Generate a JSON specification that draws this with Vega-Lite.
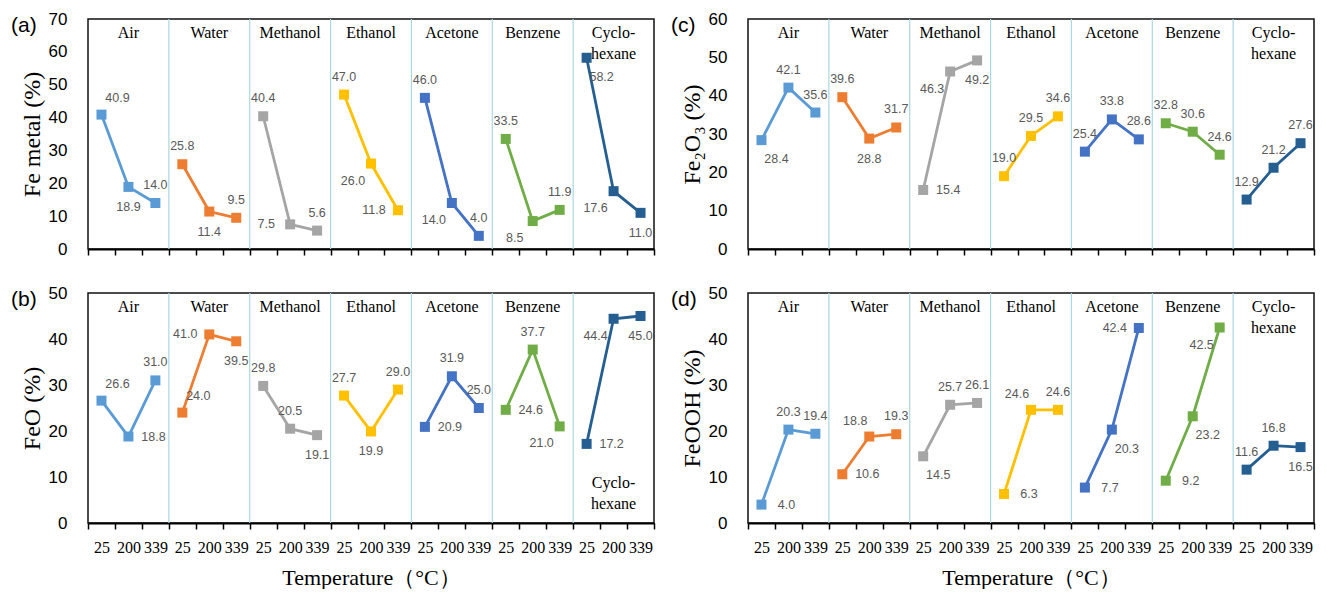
{
  "$schema": "https://vega.github.io/schema/vega-lite/v6.json",
  "background": "white",
  "padding": {"left": 10, "right": 5, "top": 9, "bottom": 0},
  "config": {
    "view": {"stroke": "#111111", "strokeWidth": 1.5},
    "axisX": {
      "domainColor": "#000000", "domainWidth": 2, "tickColor": "#000000", "tickWidth": 1.5, "tickSize": 6,
      "tickBand": "extent", "grid": false, "labelAngle": 0,
      "labelFont": "Liberation Serif", "labelFontSize": 16, "labelColor": "#000000", "labelPadding": 10,
      "titleFont": "Liberation Serif", "titleFontSize": 22, "titleFontWeight": "normal", "titleColor": "#000000", "titlePadding": 12
    },
    "axisY": {
      "domain": false, "ticks": false, "grid": false, "labelOverlap": false,
      "labelFont": "Liberation Sans", "labelFontSize": 17, "labelColor": "#000000", "labelPadding": 21,
      "titleFont": "Liberation Serif", "titleFontSize": 24, "titleFontWeight": "normal", "titleColor": "#000000", "titlePadding": 4
    },
    "title": {"orient": "none", "anchor": "start", "frame": "group", "dx": -77, "dy": -4, "offset": 0, "baseline": "middle", "font": "Liberation Sans", "fontSize": 21, "fontWeight": "normal", "color": "#000000"}
  },
  "data": {"values": [
    {"sample": "Air", "t": 25, "fe": 40.9, "feo": 26.6, "fe2o3": 28.4, "feooh": 4.0},
    {"sample": "Air", "t": 200, "fe": 18.9, "feo": 18.8, "fe2o3": 42.1, "feooh": 20.3},
    {"sample": "Air", "t": 339, "fe": 14.0, "feo": 31.0, "fe2o3": 35.6, "feooh": 19.4},
    {"sample": "Water", "t": 25, "fe": 25.8, "feo": 24.0, "fe2o3": 39.6, "feooh": 10.6},
    {"sample": "Water", "t": 200, "fe": 11.4, "feo": 41.0, "fe2o3": 28.8, "feooh": 18.8},
    {"sample": "Water", "t": 339, "fe": 9.5, "feo": 39.5, "fe2o3": 31.7, "feooh": 19.3},
    {"sample": "Methanol", "t": 25, "fe": 40.4, "feo": 29.8, "fe2o3": 15.4, "feooh": 14.5},
    {"sample": "Methanol", "t": 200, "fe": 7.5, "feo": 20.5, "fe2o3": 46.3, "feooh": 25.7},
    {"sample": "Methanol", "t": 339, "fe": 5.6, "feo": 19.1, "fe2o3": 49.2, "feooh": 26.1},
    {"sample": "Ethanol", "t": 25, "fe": 47.0, "feo": 27.7, "fe2o3": 19.0, "feooh": 6.3},
    {"sample": "Ethanol", "t": 200, "fe": 26.0, "feo": 19.9, "fe2o3": 29.5, "feooh": 24.6},
    {"sample": "Ethanol", "t": 339, "fe": 11.8, "feo": 29.0, "fe2o3": 34.6, "feooh": 24.6},
    {"sample": "Acetone", "t": 25, "fe": 46.0, "feo": 20.9, "fe2o3": 25.4, "feooh": 7.7},
    {"sample": "Acetone", "t": 200, "fe": 14.0, "feo": 31.9, "fe2o3": 33.8, "feooh": 20.3},
    {"sample": "Acetone", "t": 339, "fe": 4.0, "feo": 25.0, "fe2o3": 28.6, "feooh": 42.4},
    {"sample": "Benzene", "t": 25, "fe": 33.5, "feo": 24.6, "fe2o3": 32.8, "feooh": 9.2},
    {"sample": "Benzene", "t": 200, "fe": 8.5, "feo": 37.7, "fe2o3": 30.6, "feooh": 23.2},
    {"sample": "Benzene", "t": 339, "fe": 11.9, "feo": 21.0, "fe2o3": 24.6, "feooh": 42.5},
    {"sample": "Cyclohexane", "t": 25, "fe": 58.2, "feo": 17.2, "fe2o3": 12.9, "feooh": 11.6},
    {"sample": "Cyclohexane", "t": 200, "fe": 17.6, "feo": 44.4, "fe2o3": 21.2, "feooh": 16.8},
    {"sample": "Cyclohexane", "t": 339, "fe": 11.0, "feo": 45.0, "fe2o3": 27.6, "feooh": 16.5}
  ]},
  "transform": [
    {"calculate": "datum.sample + ' ' + datum.t", "as": "key"},
    {"calculate": "datum.sample == 'Cyclohexane' ? 'Cyclo-\\nhexane' : datum.sample", "as": "lab"}
  ],
  "spacing": 25,
  "vconcat": [
    {
      "spacing": 14,
      "hconcat": [
        {
          "width": 566, "height": 230,
          "title": {"text": "(a)"},
          "layer": [
            {
              "transform": [{"filter": "datum.t == 25 && datum.sample != 'Air'"}],
              "mark": {"type": "rule", "color": "#a9d8e1", "strokeWidth": 1.2},
              "encoding": {"x": {"field": "key", "type": "nominal", "bandPosition": 0, "scale": {"domain": ["Air 25","Air 200","Air 339","Water 25","Water 200","Water 339","Methanol 25","Methanol 200","Methanol 339","Ethanol 25","Ethanol 200","Ethanol 339","Acetone 25","Acetone 200","Acetone 339","Benzene 25","Benzene 200","Benzene 339","Cyclohexane 25","Cyclohexane 200","Cyclohexane 339"], "paddingInner": 0, "paddingOuter": 0}, "axis": {"labels": false}, "title": null}}
            },
            {
              "mark": {"type": "line", "strokeWidth": 2.8},
              "encoding": {
                "x": {"field": "key", "type": "nominal", "scale": {"domain": ["Air 25","Air 200","Air 339","Water 25","Water 200","Water 339","Methanol 25","Methanol 200","Methanol 339","Ethanol 25","Ethanol 200","Ethanol 339","Acetone 25","Acetone 200","Acetone 339","Benzene 25","Benzene 200","Benzene 339","Cyclohexane 25","Cyclohexane 200","Cyclohexane 339"], "paddingInner": 0, "paddingOuter": 0}, "axis": {"labels": false}, "title": null},
                "y": {"field": "fe", "type": "quantitative", "scale": {"domain": [0, 70]}, "axis": {"values": [0, 10, 20, 30, 40, 50, 60, 70], "labelOverlap": false}, "title": "Fe metal (%)"},
                "color": {"field": "sample", "type": "nominal", "scale": {"domain": ["Air","Water","Methanol","Ethanol","Acetone","Benzene","Cyclohexane"], "range": ["#5b9bd5","#ed7d31","#a5a5a5","#ffc000","#4472c4","#70ad47","#255e91"]}, "legend": null},
                "order": {"field": "t", "type": "quantitative"}
              }
            },
            {
              "mark": {"type": "point", "shape": "square", "filled": true, "size": 100, "opacity": 1},
              "encoding": {
                "x": {"field": "key", "type": "nominal", "scale": {"domain": ["Air 25","Air 200","Air 339","Water 25","Water 200","Water 339","Methanol 25","Methanol 200","Methanol 339","Ethanol 25","Ethanol 200","Ethanol 339","Acetone 25","Acetone 200","Acetone 339","Benzene 25","Benzene 200","Benzene 339","Cyclohexane 25","Cyclohexane 200","Cyclohexane 339"], "paddingInner": 0, "paddingOuter": 0}, "axis": {"labels": false}, "title": null},
                "y": {"field": "fe", "type": "quantitative", "scale": {"domain": [0, 70]}, "axis": {"values": [0, 10, 20, 30, 40, 50, 60, 70], "labelOverlap": false}, "title": "Fe metal (%)"},
                "color": {"field": "sample", "type": "nominal", "scale": {"domain": ["Air","Water","Methanol","Ethanol","Acetone","Benzene","Cyclohexane"], "range": ["#5b9bd5","#ed7d31","#a5a5a5","#ffc000","#4472c4","#70ad47","#255e91"]}, "legend": null}
              }
            },
            {
              "transform": [{"calculate": "({'Air 25':'NE','Air 200':'S','Water 200':'S','Methanol 200':'W','Ethanol 200':'SW','Ethanol 339':'W','Acetone 200':'SW','Benzene 200':'SW','Cyclohexane 25':'SE','Cyclohexane 200':'SW','Cyclohexane 339':'S'})[datum.key] || 'N'", "as": "pos"}],
              "mark": {"type": "text", "font": "Liberation Sans", "fontSize": 12.5, "color": "#595959", "align": "center", "baseline": "middle",
                "dx": {"expr": "datum.pos=='E'?25:datum.pos=='W'?-24:datum.pos=='NE'?16:datum.pos=='SE'?15:datum.pos=='SW'?-18:datum.pos=='NW'?-14:0"},
                "dy": {"expr": "datum.pos=='N'?-18:datum.pos=='S'?20:datum.pos=='NE'?-17:datum.pos=='SE'?19:datum.pos=='SW'?17:datum.pos=='NW'?-16:0"}},
              "encoding": {
                "x": {"field": "key", "type": "nominal", "scale": {"domain": ["Air 25","Air 200","Air 339","Water 25","Water 200","Water 339","Methanol 25","Methanol 200","Methanol 339","Ethanol 25","Ethanol 200","Ethanol 339","Acetone 25","Acetone 200","Acetone 339","Benzene 25","Benzene 200","Benzene 339","Cyclohexane 25","Cyclohexane 200","Cyclohexane 339"], "paddingInner": 0, "paddingOuter": 0}, "axis": {"labels": false}, "title": null},
                "y": {"field": "fe", "type": "quantitative", "scale": {"domain": [0, 70]}, "axis": {"values": [0, 10, 20, 30, 40, 50, 60, 70], "labelOverlap": false}, "title": "Fe metal (%)"},
                "text": {"field": "fe", "type": "quantitative", "format": ".1f"}
              }
            },
            {
              "transform": [{"filter": "datum.t == 200"}],
              "mark": {"type": "text", "font": "Liberation Serif", "fontSize": 16, "color": "#000000", "align": "center", "baseline": "top", "lineBreak": "\n", "lineHeight": 21},
              "encoding": {
                "x": {"field": "key", "type": "nominal", "scale": {"domain": ["Air 25","Air 200","Air 339","Water 25","Water 200","Water 339","Methanol 25","Methanol 200","Methanol 339","Ethanol 25","Ethanol 200","Ethanol 339","Acetone 25","Acetone 200","Acetone 339","Benzene 25","Benzene 200","Benzene 339","Cyclohexane 25","Cyclohexane 200","Cyclohexane 339"], "paddingInner": 0, "paddingOuter": 0}, "axis": {"labels": false}, "title": null},
                "y": {"datum": 68.2, "type": "quantitative", "scale": {"domain": [0, 70]}, "axis": {"values": [0, 10, 20, 30, 40, 50, 60, 70], "labelOverlap": false}, "title": "Fe metal (%)"},
                "text": {"field": "lab", "type": "nominal"}
              }
            }
          ]
        },
        {
          "width": 566, "height": 230,
          "title": {"text": "(c)"},
          "layer": [
            {
              "transform": [{"filter": "datum.t == 25 && datum.sample != 'Air'"}],
              "mark": {"type": "rule", "color": "#a9d8e1", "strokeWidth": 1.2},
              "encoding": {"x": {"field": "key", "type": "nominal", "bandPosition": 0, "scale": {"domain": ["Air 25","Air 200","Air 339","Water 25","Water 200","Water 339","Methanol 25","Methanol 200","Methanol 339","Ethanol 25","Ethanol 200","Ethanol 339","Acetone 25","Acetone 200","Acetone 339","Benzene 25","Benzene 200","Benzene 339","Cyclohexane 25","Cyclohexane 200","Cyclohexane 339"], "paddingInner": 0, "paddingOuter": 0}, "axis": {"labels": false}, "title": null}}
            },
            {
              "mark": {"type": "line", "strokeWidth": 2.8},
              "encoding": {
                "x": {"field": "key", "type": "nominal", "scale": {"domain": ["Air 25","Air 200","Air 339","Water 25","Water 200","Water 339","Methanol 25","Methanol 200","Methanol 339","Ethanol 25","Ethanol 200","Ethanol 339","Acetone 25","Acetone 200","Acetone 339","Benzene 25","Benzene 200","Benzene 339","Cyclohexane 25","Cyclohexane 200","Cyclohexane 339"], "paddingInner": 0, "paddingOuter": 0}, "axis": {"labels": false}, "title": null},
                "y": {"field": "fe2o3", "type": "quantitative", "scale": {"domain": [0, 60]}, "axis": {"values": [0, 10, 20, 30, 40, 50, 60], "labelOverlap": false}, "title": "Fe₂O₃ (%)"},
                "color": {"field": "sample", "type": "nominal", "scale": {"domain": ["Air","Water","Methanol","Ethanol","Acetone","Benzene","Cyclohexane"], "range": ["#5b9bd5","#ed7d31","#a5a5a5","#ffc000","#4472c4","#70ad47","#255e91"]}, "legend": null},
                "order": {"field": "t", "type": "quantitative"}
              }
            },
            {
              "mark": {"type": "point", "shape": "square", "filled": true, "size": 100, "opacity": 1},
              "encoding": {
                "x": {"field": "key", "type": "nominal", "scale": {"domain": ["Air 25","Air 200","Air 339","Water 25","Water 200","Water 339","Methanol 25","Methanol 200","Methanol 339","Ethanol 25","Ethanol 200","Ethanol 339","Acetone 25","Acetone 200","Acetone 339","Benzene 25","Benzene 200","Benzene 339","Cyclohexane 25","Cyclohexane 200","Cyclohexane 339"], "paddingInner": 0, "paddingOuter": 0}, "axis": {"labels": false}, "title": null},
                "y": {"field": "fe2o3", "type": "quantitative", "scale": {"domain": [0, 60]}, "axis": {"values": [0, 10, 20, 30, 40, 50, 60], "labelOverlap": false}, "title": "Fe₂O₃ (%)"},
                "color": {"field": "sample", "type": "nominal", "scale": {"domain": ["Air","Water","Methanol","Ethanol","Acetone","Benzene","Cyclohexane"], "range": ["#5b9bd5","#ed7d31","#a5a5a5","#ffc000","#4472c4","#70ad47","#255e91"]}, "legend": null}
              }
            },
            {
              "transform": [{"calculate": "({'Air 25':'SE','Water 200':'S','Methanol 25':'E','Methanol 200':'SW','Methanol 339':'S'})[datum.key] || 'N'", "as": "pos"}],
              "mark": {"type": "text", "font": "Liberation Sans", "fontSize": 12.5, "color": "#595959", "align": "center", "baseline": "middle",
                "dx": {"expr": "datum.pos=='E'?25:datum.pos=='W'?-24:datum.pos=='NE'?16:datum.pos=='SE'?15:datum.pos=='SW'?-18:datum.pos=='NW'?-14:0"},
                "dy": {"expr": "datum.pos=='N'?-18:datum.pos=='S'?20:datum.pos=='NE'?-17:datum.pos=='SE'?19:datum.pos=='SW'?17:datum.pos=='NW'?-16:0"}},
              "encoding": {
                "x": {"field": "key", "type": "nominal", "scale": {"domain": ["Air 25","Air 200","Air 339","Water 25","Water 200","Water 339","Methanol 25","Methanol 200","Methanol 339","Ethanol 25","Ethanol 200","Ethanol 339","Acetone 25","Acetone 200","Acetone 339","Benzene 25","Benzene 200","Benzene 339","Cyclohexane 25","Cyclohexane 200","Cyclohexane 339"], "paddingInner": 0, "paddingOuter": 0}, "axis": {"labels": false}, "title": null},
                "y": {"field": "fe2o3", "type": "quantitative", "scale": {"domain": [0, 60]}, "axis": {"values": [0, 10, 20, 30, 40, 50, 60], "labelOverlap": false}, "title": "Fe₂O₃ (%)"},
                "text": {"field": "fe2o3", "type": "quantitative", "format": ".1f"}
              }
            },
            {
              "transform": [{"filter": "datum.t == 200"}],
              "mark": {"type": "text", "font": "Liberation Serif", "fontSize": 16, "color": "#000000", "align": "center", "baseline": "top", "lineBreak": "\n", "lineHeight": 21},
              "encoding": {
                "x": {"field": "key", "type": "nominal", "scale": {"domain": ["Air 25","Air 200","Air 339","Water 25","Water 200","Water 339","Methanol 25","Methanol 200","Methanol 339","Ethanol 25","Ethanol 200","Ethanol 339","Acetone 25","Acetone 200","Acetone 339","Benzene 25","Benzene 200","Benzene 339","Cyclohexane 25","Cyclohexane 200","Cyclohexane 339"], "paddingInner": 0, "paddingOuter": 0}, "axis": {"labels": false}, "title": null},
                "y": {"datum": 58.4, "type": "quantitative", "scale": {"domain": [0, 60]}, "axis": {"values": [0, 10, 20, 30, 40, 50, 60], "labelOverlap": false}, "title": "Fe₂O₃ (%)"},
                "text": {"field": "lab", "type": "nominal"}
              }
            }
          ]
        }
      ]
    },
    {
      "spacing": 14,
      "hconcat": [
        {
          "width": 566, "height": 230,
          "title": {"text": "(b)"},
          "layer": [
            {
              "transform": [{"filter": "datum.t == 25 && datum.sample != 'Air'"}],
              "mark": {"type": "rule", "color": "#a9d8e1", "strokeWidth": 1.2},
              "encoding": {"x": {"field": "key", "type": "nominal", "bandPosition": 0, "scale": {"domain": ["Air 25","Air 200","Air 339","Water 25","Water 200","Water 339","Methanol 25","Methanol 200","Methanol 339","Ethanol 25","Ethanol 200","Ethanol 339","Acetone 25","Acetone 200","Acetone 339","Benzene 25","Benzene 200","Benzene 339","Cyclohexane 25","Cyclohexane 200","Cyclohexane 339"], "paddingInner": 0, "paddingOuter": 0}, "axis": {"labelExpr": "split(datum.value, ' ')[1]"}, "title": "Temperature（°C）"}}
            },
            {
              "mark": {"type": "line", "strokeWidth": 2.8},
              "encoding": {
                "x": {"field": "key", "type": "nominal", "scale": {"domain": ["Air 25","Air 200","Air 339","Water 25","Water 200","Water 339","Methanol 25","Methanol 200","Methanol 339","Ethanol 25","Ethanol 200","Ethanol 339","Acetone 25","Acetone 200","Acetone 339","Benzene 25","Benzene 200","Benzene 339","Cyclohexane 25","Cyclohexane 200","Cyclohexane 339"], "paddingInner": 0, "paddingOuter": 0}, "axis": {"labelExpr": "split(datum.value, ' ')[1]"}, "title": "Temperature（°C）"},
                "y": {"field": "feo", "type": "quantitative", "scale": {"domain": [0, 50]}, "axis": {"values": [0, 10, 20, 30, 40, 50], "labelOverlap": false}, "title": "FeO (%)"},
                "color": {"field": "sample", "type": "nominal", "scale": {"domain": ["Air","Water","Methanol","Ethanol","Acetone","Benzene","Cyclohexane"], "range": ["#5b9bd5","#ed7d31","#a5a5a5","#ffc000","#4472c4","#70ad47","#255e91"]}, "legend": null},
                "order": {"field": "t", "type": "quantitative"}
              }
            },
            {
              "mark": {"type": "point", "shape": "square", "filled": true, "size": 100, "opacity": 1},
              "encoding": {
                "x": {"field": "key", "type": "nominal", "scale": {"domain": ["Air 25","Air 200","Air 339","Water 25","Water 200","Water 339","Methanol 25","Methanol 200","Methanol 339","Ethanol 25","Ethanol 200","Ethanol 339","Acetone 25","Acetone 200","Acetone 339","Benzene 25","Benzene 200","Benzene 339","Cyclohexane 25","Cyclohexane 200","Cyclohexane 339"], "paddingInner": 0, "paddingOuter": 0}, "axis": {"labelExpr": "split(datum.value, ' ')[1]"}, "title": "Temperature（°C）"},
                "y": {"field": "feo", "type": "quantitative", "scale": {"domain": [0, 50]}, "axis": {"values": [0, 10, 20, 30, 40, 50], "labelOverlap": false}, "title": "FeO (%)"},
                "color": {"field": "sample", "type": "nominal", "scale": {"domain": ["Air","Water","Methanol","Ethanol","Acetone","Benzene","Cyclohexane"], "range": ["#5b9bd5","#ed7d31","#a5a5a5","#ffc000","#4472c4","#70ad47","#255e91"]}, "legend": null}
              }
            },
            {
              "transform": [{"calculate": "({'Air 25':'NE','Air 200':'E','Water 25':'NE','Water 200':'W','Water 339':'S','Methanol 339':'S','Ethanol 200':'S','Acetone 25':'E','Benzene 25':'E','Benzene 339':'SW','Cyclohexane 25':'E','Cyclohexane 200':'SW','Cyclohexane 339':'S'})[datum.key] || 'N'", "as": "pos"}],
              "mark": {"type": "text", "font": "Liberation Sans", "fontSize": 12.5, "color": "#595959", "align": "center", "baseline": "middle",
                "dx": {"expr": "datum.pos=='E'?25:datum.pos=='W'?-24:datum.pos=='NE'?16:datum.pos=='SE'?15:datum.pos=='SW'?-18:datum.pos=='NW'?-14:0"},
                "dy": {"expr": "datum.pos=='N'?-18:datum.pos=='S'?20:datum.pos=='NE'?-17:datum.pos=='SE'?19:datum.pos=='SW'?17:datum.pos=='NW'?-16:0"}},
              "encoding": {
                "x": {"field": "key", "type": "nominal", "scale": {"domain": ["Air 25","Air 200","Air 339","Water 25","Water 200","Water 339","Methanol 25","Methanol 200","Methanol 339","Ethanol 25","Ethanol 200","Ethanol 339","Acetone 25","Acetone 200","Acetone 339","Benzene 25","Benzene 200","Benzene 339","Cyclohexane 25","Cyclohexane 200","Cyclohexane 339"], "paddingInner": 0, "paddingOuter": 0}, "axis": {"labelExpr": "split(datum.value, ' ')[1]"}, "title": "Temperature（°C）"},
                "y": {"field": "feo", "type": "quantitative", "scale": {"domain": [0, 50]}, "axis": {"values": [0, 10, 20, 30, 40, 50], "labelOverlap": false}, "title": "FeO (%)"},
                "text": {"field": "feo", "type": "quantitative", "format": ".1f"}
              }
            },
            {
              "transform": [{"filter": "datum.t == 200 && datum.sample != 'Cyclohexane'"}],
              "mark": {"type": "text", "font": "Liberation Serif", "fontSize": 16, "color": "#000000", "align": "center", "baseline": "top", "lineBreak": "\n", "lineHeight": 21},
              "encoding": {
                "x": {"field": "key", "type": "nominal", "scale": {"domain": ["Air 25","Air 200","Air 339","Water 25","Water 200","Water 339","Methanol 25","Methanol 200","Methanol 339","Ethanol 25","Ethanol 200","Ethanol 339","Acetone 25","Acetone 200","Acetone 339","Benzene 25","Benzene 200","Benzene 339","Cyclohexane 25","Cyclohexane 200","Cyclohexane 339"], "paddingInner": 0, "paddingOuter": 0}, "axis": {"labelExpr": "split(datum.value, ' ')[1]"}, "title": "Temperature（°C）"},
                "y": {"datum": 48.7, "type": "quantitative", "scale": {"domain": [0, 50]}, "axis": {"values": [0, 10, 20, 30, 40, 50], "labelOverlap": false}, "title": "FeO (%)"},
                "text": {"field": "lab", "type": "nominal"}
              }
            },
            {
              "transform": [{"filter": "datum.t == 200 && datum.sample == 'Cyclohexane'"}],
              "mark": {"type": "text", "font": "Liberation Serif", "fontSize": 16, "color": "#000000", "align": "center", "baseline": "top", "lineBreak": "\n", "lineHeight": 21},
              "encoding": {
                "x": {"field": "key", "type": "nominal", "scale": {"domain": ["Air 25","Air 200","Air 339","Water 25","Water 200","Water 339","Methanol 25","Methanol 200","Methanol 339","Ethanol 25","Ethanol 200","Ethanol 339","Acetone 25","Acetone 200","Acetone 339","Benzene 25","Benzene 200","Benzene 339","Cyclohexane 25","Cyclohexane 200","Cyclohexane 339"], "paddingInner": 0, "paddingOuter": 0}, "axis": {"labelExpr": "split(datum.value, ' ')[1]"}, "title": "Temperature（°C）"},
                "y": {"datum": 10.5, "type": "quantitative", "scale": {"domain": [0, 50]}, "axis": {"values": [0, 10, 20, 30, 40, 50], "labelOverlap": false}, "title": "FeO (%)"},
                "text": {"field": "lab", "type": "nominal"}
              }
            }
          ]
        },
        {
          "width": 566, "height": 230,
          "title": {"text": "(d)"},
          "layer": [
            {
              "transform": [{"filter": "datum.t == 25 && datum.sample != 'Air'"}],
              "mark": {"type": "rule", "color": "#a9d8e1", "strokeWidth": 1.2},
              "encoding": {"x": {"field": "key", "type": "nominal", "bandPosition": 0, "scale": {"domain": ["Air 25","Air 200","Air 339","Water 25","Water 200","Water 339","Methanol 25","Methanol 200","Methanol 339","Ethanol 25","Ethanol 200","Ethanol 339","Acetone 25","Acetone 200","Acetone 339","Benzene 25","Benzene 200","Benzene 339","Cyclohexane 25","Cyclohexane 200","Cyclohexane 339"], "paddingInner": 0, "paddingOuter": 0}, "axis": {"labelExpr": "split(datum.value, ' ')[1]"}, "title": "Temperature（°C）"}}
            },
            {
              "mark": {"type": "line", "strokeWidth": 2.8},
              "encoding": {
                "x": {"field": "key", "type": "nominal", "scale": {"domain": ["Air 25","Air 200","Air 339","Water 25","Water 200","Water 339","Methanol 25","Methanol 200","Methanol 339","Ethanol 25","Ethanol 200","Ethanol 339","Acetone 25","Acetone 200","Acetone 339","Benzene 25","Benzene 200","Benzene 339","Cyclohexane 25","Cyclohexane 200","Cyclohexane 339"], "paddingInner": 0, "paddingOuter": 0}, "axis": {"labelExpr": "split(datum.value, ' ')[1]"}, "title": "Temperature（°C）"},
                "y": {"field": "feooh", "type": "quantitative", "scale": {"domain": [0, 50]}, "axis": {"values": [0, 10, 20, 30, 40, 50], "labelOverlap": false}, "title": "FeOOH (%)"},
                "color": {"field": "sample", "type": "nominal", "scale": {"domain": ["Air","Water","Methanol","Ethanol","Acetone","Benzene","Cyclohexane"], "range": ["#5b9bd5","#ed7d31","#a5a5a5","#ffc000","#4472c4","#70ad47","#255e91"]}, "legend": null},
                "order": {"field": "t", "type": "quantitative"}
              }
            },
            {
              "mark": {"type": "point", "shape": "square", "filled": true, "size": 100, "opacity": 1},
              "encoding": {
                "x": {"field": "key", "type": "nominal", "scale": {"domain": ["Air 25","Air 200","Air 339","Water 25","Water 200","Water 339","Methanol 25","Methanol 200","Methanol 339","Ethanol 25","Ethanol 200","Ethanol 339","Acetone 25","Acetone 200","Acetone 339","Benzene 25","Benzene 200","Benzene 339","Cyclohexane 25","Cyclohexane 200","Cyclohexane 339"], "paddingInner": 0, "paddingOuter": 0}, "axis": {"labelExpr": "split(datum.value, ' ')[1]"}, "title": "Temperature（°C）"},
                "y": {"field": "feooh", "type": "quantitative", "scale": {"domain": [0, 50]}, "axis": {"values": [0, 10, 20, 30, 40, 50], "labelOverlap": false}, "title": "FeOOH (%)"},
                "color": {"field": "sample", "type": "nominal", "scale": {"domain": ["Air","Water","Methanol","Ethanol","Acetone","Benzene","Cyclohexane"], "range": ["#5b9bd5","#ed7d31","#a5a5a5","#ffc000","#4472c4","#70ad47","#255e91"]}, "legend": null}
              }
            },
            {
              "transform": [{"calculate": "({'Air 25':'E','Water 25':'E','Water 200':'NW','Methanol 25':'SE','Ethanol 25':'E','Ethanol 200':'NW','Acetone 25':'E','Acetone 200':'SE','Acetone 339':'W','Benzene 25':'E','Benzene 200':'SE','Benzene 339':'SW','Cyclohexane 339':'S'})[datum.key] || 'N'", "as": "pos"}],
              "mark": {"type": "text", "font": "Liberation Sans", "fontSize": 12.5, "color": "#595959", "align": "center", "baseline": "middle",
                "dx": {"expr": "datum.pos=='E'?25:datum.pos=='W'?-24:datum.pos=='NE'?16:datum.pos=='SE'?15:datum.pos=='SW'?-18:datum.pos=='NW'?-14:0"},
                "dy": {"expr": "datum.pos=='N'?-18:datum.pos=='S'?20:datum.pos=='NE'?-17:datum.pos=='SE'?19:datum.pos=='SW'?17:datum.pos=='NW'?-16:0"}},
              "encoding": {
                "x": {"field": "key", "type": "nominal", "scale": {"domain": ["Air 25","Air 200","Air 339","Water 25","Water 200","Water 339","Methanol 25","Methanol 200","Methanol 339","Ethanol 25","Ethanol 200","Ethanol 339","Acetone 25","Acetone 200","Acetone 339","Benzene 25","Benzene 200","Benzene 339","Cyclohexane 25","Cyclohexane 200","Cyclohexane 339"], "paddingInner": 0, "paddingOuter": 0}, "axis": {"labelExpr": "split(datum.value, ' ')[1]"}, "title": "Temperature（°C）"},
                "y": {"field": "feooh", "type": "quantitative", "scale": {"domain": [0, 50]}, "axis": {"values": [0, 10, 20, 30, 40, 50], "labelOverlap": false}, "title": "FeOOH (%)"},
                "text": {"field": "feooh", "type": "quantitative", "format": ".1f"}
              }
            },
            {
              "transform": [{"filter": "datum.t == 200"}],
              "mark": {"type": "text", "font": "Liberation Serif", "fontSize": 16, "color": "#000000", "align": "center", "baseline": "top", "lineBreak": "\n", "lineHeight": 21},
              "encoding": {
                "x": {"field": "key", "type": "nominal", "scale": {"domain": ["Air 25","Air 200","Air 339","Water 25","Water 200","Water 339","Methanol 25","Methanol 200","Methanol 339","Ethanol 25","Ethanol 200","Ethanol 339","Acetone 25","Acetone 200","Acetone 339","Benzene 25","Benzene 200","Benzene 339","Cyclohexane 25","Cyclohexane 200","Cyclohexane 339"], "paddingInner": 0, "paddingOuter": 0}, "axis": {"labelExpr": "split(datum.value, ' ')[1]"}, "title": "Temperature（°C）"},
                "y": {"datum": 48.7, "type": "quantitative", "scale": {"domain": [0, 50]}, "axis": {"values": [0, 10, 20, 30, 40, 50], "labelOverlap": false}, "title": "FeOOH (%)"},
                "text": {"field": "lab", "type": "nominal"}
              }
            }
          ]
        }
      ]
    }
  ]
}
